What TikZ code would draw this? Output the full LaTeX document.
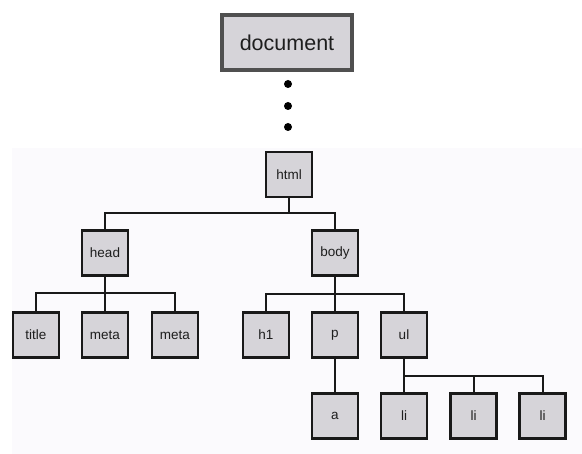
\documentclass[tikz,border=0pt]{standalone}
\usepackage{fontspec}
\setmainfont{Liberation Sans}
\definecolor{boxfill}{HTML}{D6D4D9}
\definecolor{docborder}{HTML}{505050}
\definecolor{bgpanel}{HTML}{FBFAFD}
\definecolor{txt}{HTML}{1E1E1E}
\begin{document}
\begin{tikzpicture}[x=1pt,y=-1pt,
  el/.style={draw=black!90,line width=2.6pt,fill=boxfill,minimum width=46pt,minimum height=45pt,inner sep=0pt,text=txt,font=\fontsize{13.5}{15}\selectfont},
  docbox/.style={draw=docborder,line width=3.2pt,fill=boxfill,minimum width=130pt,minimum height=55pt,inner sep=0pt,text=txt,font=\fontsize{21.5}{25}\selectfont},
  link/.style={line width=2pt,black!90},
  dot/.style={circle,fill=black,minimum size=8pt,inner sep=0pt}]
\useasboundingbox (0,0) rectangle (582,454);
\fill[bgpanel] (12,148) rectangle (582,454);
\node[docbox] (doc) at (287,42.5) {document};
\node[dot] (d1) at (288,84) {};
\node[dot] (d2) at (288,106) {};
\node[dot] (d3) at (288,127) {};
\node[el] (html) at (289,174.5) {html};
\node[el] (head) at (105,253) {head};
\node[el] (body) at (335,253) {body};
\node[el] (title) at (36,335) {title};
\node[el] (meta1) at (105,335) {meta};
\node[el] (meta2) at (175,335) {meta};
\node[el] (h1) at (266,335) {h1};
\node[el] (p) at (335,335) {p};
\node[el] (ul) at (404,335) {ul};
\node[el] (a) at (335,416) {a};
\node[el] (li1) at (404,416) {li};
\node[el] (li2) at (473.5,416) {li};
\node[el] (li3) at (542.5,416) {li};
\coordinate (b0) at (289,213);
\coordinate (b1) at (105,293);
\coordinate (b2) at (335,294);
\coordinate (b3) at (404,376);
\draw[link] (html.south) -- (b0);
\draw[link] (head.north) |- (b0) -| (body.north);
\draw[link] (head.south) -- (b1);
\draw[link] (title.north) |- (b1) -| (meta2.north);
\draw[link] (meta1.north) -- (b1);
\draw[link] (body.south) -- (b2);
\draw[link] (h1.north) |- (b2) -| (ul.north);
\draw[link] (p.north) -- (b2);
\draw[link] (p.south) -- (a.north);
\draw[link] (ul.south) -- (li1.north);
\draw[link] (b3) -| (li3.north);
\draw[link] (li2.north) -- (li2.north |- b3);
\end{tikzpicture}
\end{document}
